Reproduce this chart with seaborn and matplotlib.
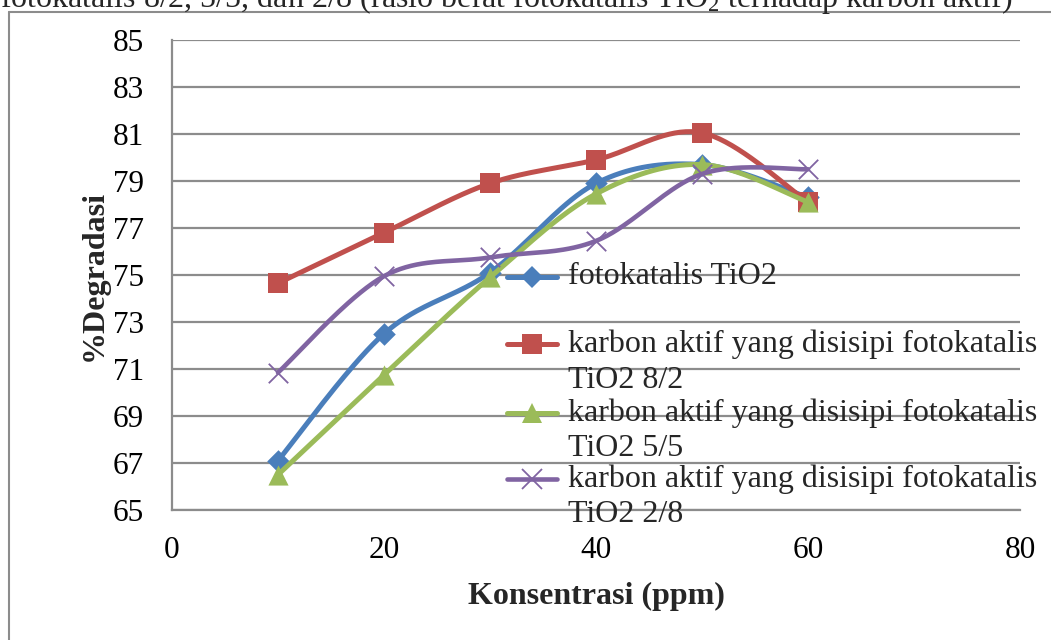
import numpy as np
import pandas as pd
import seaborn as sns
import matplotlib
matplotlib.use("Agg")
import matplotlib.pyplot as plt
from matplotlib.lines import Line2D

# ---- data ----
konsentrasi = [10, 20, 30, 40, 50, 60]
tio2 = [67.1, 72.5, 75.1, 78.9, 79.7, 78.3]
tio2_82 = [74.65, 76.8, 78.9, 79.9, 81.05, 78.1]
tio2_55 = [66.5, 70.75, 74.9, 78.45, 79.7, 78.1]
tio2_28 = [70.85, 74.95, 75.75, 76.45, 79.3, 79.5]

series_labels = [
    "fotokatalis TiO2",
    "karbon aktif yang disisipi fotokatalis\nTiO2 8/2",
    "karbon aktif yang disisipi fotokatalis\nTiO2 5/5",
    "karbon aktif yang disisipi fotokatalis\nTiO2 2/8",
]
x_ticks = [0, 20, 40, 60, 80]
y_ticks = [65, 67, 69, 71, 73, 75, 77, 79, 81, 83, 85]
title_text = "fotokatalis 8/2, 5/5, dan 2/8 (rasio berat fotokatalis TiO$_2$ terhadap karbon aktif)"

sns.set_theme(style="white")
plt.rcParams["font.family"] = ["Liberation Serif", "DejaVu Serif"]
plt.rcParams["mathtext.fontset"] = "custom"
plt.rcParams["mathtext.rm"] = "Liberation Serif"
plt.rcParams["mathtext.it"] = "Liberation Serif"

colors = ["#4A7EBB", "#C0504D", "#9BBB59", "#8064A2"]
markers = ["D", "s", "^", "x"]
msizes = [11.5, 14, 14.5, 14]
lws = [3.6, 3.6, 3.6, 3.3]
grid_c = "#8C8C8C"


def smooth(x, y, n=40):
    """Excel-like Bezier (Catmull-Rom) smoothing for drawing the line."""
    P = np.column_stack([x, y]).astype(float)
    out = []
    for i in range(len(P) - 1):
        p0 = P[max(i - 1, 0)]
        p1 = P[i]
        p2 = P[i + 1]
        p3 = P[min(i + 2, len(P) - 1)]
        c1 = p1 + (p2 - p0) / 6.0
        c2 = p2 - (p3 - p1) / 6.0
        t = np.linspace(0, 1, n)[:, None]
        seg = (1 - t) ** 3 * p1 + 3 * (1 - t) ** 2 * t * c1 + 3 * (1 - t) * t ** 2 * c2 + t ** 3 * p2
        out.append(seg if i == 0 else seg[1:])
    return np.vstack(out)


fig = plt.figure(figsize=(10.51, 6.40), dpi=100)
ax = fig.add_axes([172 / 1051, 1 - 510 / 640, (1020 - 172) / 1051, (510 - 40) / 640])

# chart frame
fig.add_artist(Line2D([9 / 1051, 1.0], [1 - 12 / 640, 1 - 12 / 640], color=grid_c, lw=1.5,
                      transform=fig.transFigure))
fig.add_artist(Line2D([9 / 1051, 9 / 1051], [1 - 12 / 640, 0.0], color=grid_c, lw=1.5,
                      transform=fig.transFigure))

fig.text(0.0, 1 - 7.5 / 640, title_text, fontsize=23, ha="left", va="baseline")

all_series = [tio2, tio2_82, tio2_55, tio2_28]
for i, vals in enumerate(all_series):
    curve = smooth(konsentrasi, vals)
    df_c = pd.DataFrame({"x": curve[:, 0], "y": curve[:, 1]})
    sns.lineplot(data=df_c, x="x", y="y", sort=False, estimator=None, ax=ax,
                 color=colors[i], lw=lws[i], zorder=3 + i, solid_capstyle="round")
    df_p = pd.DataFrame({"x": konsentrasi, "y": vals})
    if markers[i] == "x":
        sns.scatterplot(data=df_p, x="x", y="y", ax=ax, marker="x", s=msizes[i] ** 2,
                        color=colors[i], linewidth=1.3, zorder=3.5 + i)
    else:
        sns.scatterplot(data=df_p, x="x", y="y", ax=ax, marker=markers[i], s=msizes[i] ** 2,
                        color=colors[i], edgecolor=colors[i], linewidth=0, zorder=3.5 + i)

ax.set_xlim(0, 80)
ax.set_ylim(65, 85)
ax.set_xticks(x_ticks)
ax.set_yticks(y_ticks)
ax.set_xticklabels([str(v) for v in x_ticks])
ax.set_yticklabels([str(v) for v in y_ticks])
ax.tick_params(axis="both", length=0, labelsize=22.5, colors="black")
ax.tick_params(axis="y", pad=20)
ax.tick_params(axis="x", pad=19)
ax.grid(axis="y", color=grid_c, lw=1.6)
ax.grid(axis="x", visible=False)
ax.set_axisbelow(True)
for s in ["top", "right"]:
    ax.spines[s].set_visible(False)
for s in ["left", "bottom"]:
    ax.spines[s].set_color(grid_c)
    ax.spines[s].set_linewidth(1.6)

ax.set_xlabel("Konsentrasi (ppm)", fontsize=23, fontweight="bold", labelpad=12)
ax.set_ylabel("%Degradasi", fontsize=23, fontweight="bold", labelpad=3)

# legend (manual, no frame, drawn over the gridlines)
entry_y = [277, 344, 413, 479]
line_step = 36


def fx(px):
    return px / 1051


def fy(py):
    return 1 - py / 640


for i, lab in enumerate(series_labels):
    yy = fy(entry_y[i])
    fig.add_artist(Line2D([fx(507), fx(557)], [yy, yy], color=colors[i], lw=lws[i],
                          solid_capstyle="round", transform=fig.transFigure, zorder=10))
    if markers[i] == "x":
        fig.add_artist(Line2D([fx(532)], [yy], marker="x", markersize=msizes[i], mew=1.3,
                              color=colors[i], transform=fig.transFigure, zorder=11))
    else:
        fig.add_artist(Line2D([fx(532)], [yy], marker=markers[i], markersize=msizes[i], mew=0,
                              color=colors[i], transform=fig.transFigure, zorder=11))
    for j, part in enumerate(lab.split("\n")):
        fig.text(fx(568), fy(entry_y[i] + j * line_step), part, fontsize=23, ha="left",
                 va="center", transform=fig.transFigure, zorder=12)

fig.savefig("out.png", dpi=100)
